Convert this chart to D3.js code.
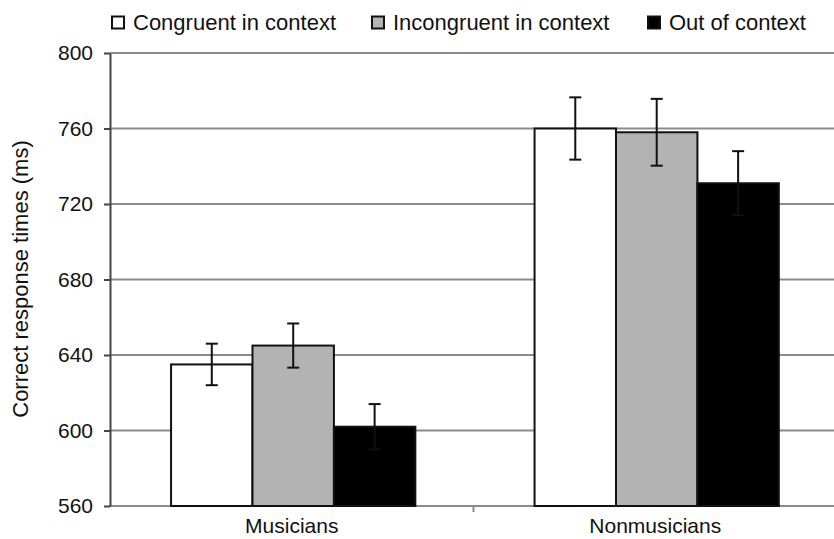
<!DOCTYPE html>
<html><head><meta charset="utf-8">
<script src="https://cdn.jsdelivr.net/npm/d3@7"></script>
<style>body{margin:0;background:#fff}svg{display:block}text{font-family:"Liberation Sans",Arial,sans-serif;fill:#111}</style>
</head><body><svg id="c" width="834" height="539"></svg>
<script>
const groups = ["Musicians", "Nonmusicians"];
const series = ["Congruent in context", "Incongruent in context", "Out of context"];
const fills = ["#ffffff", "#b3b3b3", "#000000"];
const congruent = [635, 760];
const incongruent = [645, 758];
const outOfContext = [602, 731];
const errCongruent = [11, 16.5];
const errIncongruent = [11.7, 17.7];
const errOut = [12, 17];
const yTicks = [560, 600, 640, 680, 720, 760, 800];
const yTitle = "Correct response times (ms)";

const values = [congruent, incongruent, outOfContext];
const errs = [errCongruent, errIncongruent, errOut];
const data = [];
groups.forEach((g, gi) => series.forEach((s, si) => data.push({g, s, si, v: values[si][gi], e: errs[si][gi]})));

const svg = d3.select("#c");
const mLeft = 110, mRight = 837, mTop = 53, mBottom = 506;
const y = d3.scaleLinear().domain([560, 800]).range([mBottom, mTop]);
const x0 = d3.scaleBand().domain(groups).range([mLeft, mRight]).padding(0);
const bw = x0.bandwidth();
const x1 = d3.scaleBand().domain(series).range([bw * 0.168, bw * 0.84]).padding(0);

// gridlines
svg.append("g").selectAll("line").data(yTicks).join("line")
  .attr("x1", mLeft).attr("x2", 834).attr("y1", d => y(d)).attr("y2", d => y(d))
  .attr("stroke", "#8a8a8a").attr("stroke-width", 2);

// bars
svg.append("g").selectAll("rect").data(data).join("rect")
  .attr("x", d => x0(d.g) + x1(d.s))
  .attr("width", x1.bandwidth())
  .attr("y", d => y(d.v))
  .attr("height", d => y(560) - y(d.v))
  .attr("fill", d => fills[d.si])
  .attr("stroke", "#111").attr("stroke-width", 2);

// error bars
const eb = svg.append("g").attr("stroke", "#111").attr("stroke-width", 2);
data.forEach(d => {
  const cx = x0(d.g) + x1(d.s) + x1.bandwidth() / 2;
  const y1 = y(d.v + d.e), y2 = y(d.v - d.e);
  eb.append("line").attr("x1", cx).attr("x2", cx).attr("y1", y1).attr("y2", y2);
  eb.append("line").attr("x1", cx - 6).attr("x2", cx + 6).attr("y1", y1).attr("y2", y1);
  eb.append("line").attr("x1", cx - 6).attr("x2", cx + 6).attr("y1", y2).attr("y2", y2);
});

// y axis
const yAxis = d3.axisLeft(y).tickValues(yTicks).tickSize(6).tickSizeOuter(0).tickPadding(11);
const ga = svg.append("g").attr("transform", `translate(${mLeft},0)`).call(yAxis);
ga.select(".domain").attr("stroke", "#444").attr("stroke-width", 2);
ga.selectAll(".tick line").attr("stroke", "#444").attr("stroke-width", 2);
ga.selectAll(".tick text").attr("font-size", 21).attr("fill", "#111");

// x axis
const xAxis = d3.axisBottom(x0).tickSize(0).tickPadding(12);
const gx = svg.append("g").attr("transform", `translate(0,${mBottom})`).call(xAxis);
gx.select(".domain").remove();
gx.selectAll(".tick text").attr("font-size", 21).attr("fill", "#111");
svg.append("line").attr("x1", mLeft + bw).attr("x2", mLeft + bw).attr("y1", mBottom).attr("y2", mBottom + 6)
  .attr("stroke", "#8a8a8a").attr("stroke-width", 2);

// y title
svg.append("text").attr("transform", `translate(28,279) rotate(-90)`)
  .attr("text-anchor", "middle").attr("font-size", 22).text(yTitle);

// legend
const legX = [112, 372, 648];
const lg = svg.append("g").selectAll("g").data(series).join("g")
  .attr("transform", (d, i) => `translate(${legX[i]},22.5)`);
lg.append("rect").attr("x", 0).attr("y", -6).attr("width", 12).attr("height", 12)
  .attr("fill", (d, i) => fills[i]).attr("stroke", "#111").attr("stroke-width", 2);
lg.append("text").attr("x", 21).attr("y", 7.5).attr("font-size", 22).text(d => d);
</script></body></html>
